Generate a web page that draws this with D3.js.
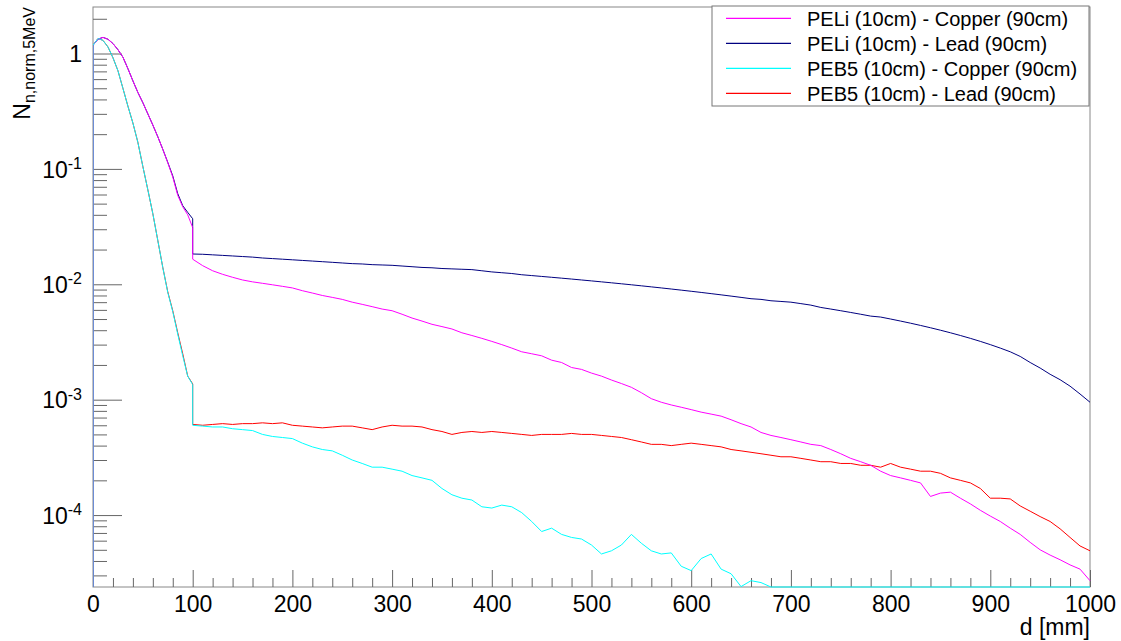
<!DOCTYPE html>
<html>
<head>
<meta charset="utf-8">
<script src="https://cdn.jsdelivr.net/npm/d3@7"></script>
<style>
  body { margin: 0; background: #fff; }
  text { font-family: "Liberation Sans", Arial, sans-serif; fill: #000; }
</style>
</head>
<body>
<div id="chart"></div>
<script>
// depth bins (mm): moderator part (0-100) and shielding part (100-1000)
const depthFront = [0,5,10,15,20,25,30,35,40,45,50,55,60,65,70,75,80,85,90,95,100];
const depthBack = [100,110,120,130,140,150,160,170,180,190,200,210,220,230,240,250,260,270,280,290,
  300,310,320,330,340,350,360,370,380,390,400,410,420,430,440,450,460,470,480,490,
  500,510,520,530,540,550,560,570,580,590,600,610,620,630,640,650,660,670,680,690,
  700,710,720,730,740,750,760,770,780,790,800,810,820,830,840,850,860,870,880,890,
  900,910,920,930,940,950,960,970,980,990,1000];

// PELi (10cm) - Copper (90cm)
const peliCuFront = [1.18,1.33,1.38,1.33,1.22,1.08,0.93,0.74,0.58,0.46,0.375,0.30,0.24,0.19,0.148,0.113,0.085,0.059,0.047,0.040,0.031];
const peliCuBack = [0.0165,0.0145,0.0131,0.0122,0.0115,0.0109,0.0105,0.0102,0.0099,0.0096,
  0.0093,0.0088,0.0084,0.0080,0.0077,0.0074,0.0070,0.0067,0.0064,0.0061,
  0.0059,0.0055,0.0051,0.0048,0.0045,0.0043,0.0041,0.0038,0.0036,0.0034,
  0.0032,0.0030,0.0028,0.0026,0.0025,0.0024,0.0022,0.0021,0.0019,0.00183,
  0.0017,0.0016,0.00148,0.00138,0.00128,0.00115,0.00102,0.00095,0.00090,0.00086,
  0.00082,0.00078,0.00075,0.00072,0.00067,0.00062,0.00058,0.00052,0.00049,0.00047,
  0.00045,0.00043,0.00041,0.00040,0.00037,0.00034,0.00031,0.00029,0.00027,0.00024,
  0.00022,0.00021,0.00020,0.00019,0.000145,0.000155,0.000158,0.00014,0.000125,0.00011,
  0.000098,0.000088,0.000077,0.000068,0.000058,0.000050,0.000045,0.000041,0.000037,0.000034,
  0.000027];

// PELi (10cm) - Lead (90cm)
const peliPbFront = [1.18,1.33,1.38,1.33,1.22,1.08,0.93,0.74,0.58,0.46,0.375,0.30,0.24,0.19,0.148,0.114,0.087,0.061,0.048,0.042,0.037];
const peliPbBack = [0.0183,0.0182,0.0180,0.0178,0.0176,0.0174,0.0172,0.0169,0.0167,0.0165,
  0.0163,0.0161,0.0159,0.0157,0.0155,0.0153,0.0151,0.0150,0.0148,0.0147,
  0.0146,0.0144,0.0142,0.0140,0.0139,0.0137,0.0136,0.0135,0.0134,0.0131,
  0.0128,0.0126,0.0124,0.0121,0.0119,0.0117,0.0115,0.0113,0.0111,0.0109,
  0.0107,0.0105,0.0103,0.0101,0.0099,0.0097,0.0095,0.0093,0.0091,0.0089,
  0.0087,0.0085,0.0083,0.0081,0.0079,0.0077,0.0075,0.0074,0.0072,0.0071,
  0.0070,0.0068,0.0066,0.0063,0.0061,0.0059,0.0057,0.0055,0.0053,0.0052,
  0.0050,0.0048,0.0046,0.0044,0.0042,0.0040,0.0038,0.0036,0.0034,0.0032,
  0.0030,0.0028,0.0026,0.00237,0.0021,0.00188,0.00166,0.00149,0.00131,0.00112,
  0.00095];

// PEB5 (10cm) - Copper (90cm)
const peb5CuFront = [1.18,1.35,1.30,1.14,0.92,0.71,0.50,0.35,0.25,0.17,0.105,0.066,0.041,0.024,0.014,0.0085,0.0058,0.0037,0.0024,0.0016,0.00135];
const peb5CuBack = [0.00060,0.00059,0.00058,0.00058,0.00056,0.00055,0.00054,0.00050,0.00048,0.00047,
  0.00046,0.00042,0.00039,0.00037,0.00036,0.00033,0.00030,0.00028,0.00026,0.00026,
  0.00025,0.00024,0.00022,0.00021,0.00020,0.00017,0.00015,0.00014,0.000135,0.000118,
  0.000115,0.000122,0.000118,0.000105,0.000088,0.000072,0.000077,0.000068,0.000064,0.000062,
  0.000055,0.000046,0.000049,0.000055,0.000068,0.000057,0.000049,0.000046,0.000047,0.000036,
  0.000033,0.000042,0.000046,0.000034,0.000031,0.000024,0.000027,0.000026,0,0,
  0,0,0,0,0,0,0,0,0,0,
  0,0,0,0,0,0,0,0,0,0,
  0,0,0,0,0,0,0,0,0,0,
  0];

// PEB5 (10cm) - Lead (90cm)
const peb5PbFront = [1.18,1.35,1.30,1.14,0.92,0.71,0.50,0.35,0.25,0.17,0.105,0.066,0.041,0.024,0.014,0.0086,0.0059,0.0038,0.0025,0.0016,0.00137];
const peb5PbBack = [0.00061,0.00060,0.00061,0.00062,0.00061,0.00062,0.00062,0.00063,0.00062,0.00063,
  0.00060,0.00059,0.00058,0.00057,0.00058,0.00059,0.00059,0.00057,0.00055,0.00058,
  0.00060,0.00059,0.00059,0.00058,0.00055,0.00053,0.00050,0.00052,0.00053,0.00052,
  0.00053,0.00052,0.00051,0.00050,0.00049,0.00050,0.00050,0.00050,0.00051,0.00050,
  0.00050,0.00049,0.00048,0.00047,0.00045,0.00043,0.00041,0.00041,0.00040,0.00041,
  0.00042,0.00041,0.00040,0.00039,0.00037,0.00036,0.00035,0.00034,0.00033,0.00032,
  0.00032,0.00031,0.00030,0.00029,0.00029,0.00028,0.00028,0.00027,0.00027,0.00026,
  0.00028,0.00026,0.00025,0.00024,0.00024,0.00023,0.00021,0.00020,0.00019,0.00017,
  0.00014,0.000140,0.000138,0.00012,0.000108,0.000097,0.000088,0.000076,0.000064,0.000054,
  0.000049];

const seriesNames = ["PELi (10cm) - Copper (90cm)", "PELi (10cm) - Lead (90cm)",
  "PEB5 (10cm) - Copper (90cm)", "PEB5 (10cm) - Lead (90cm)"];
const seriesColors = ["#ff00ff", "#000080", "#00ffff", "#ff0000"];

const xTicks = [0,100,200,300,400,500,600,700,800,900,1000];
const yDecades = [1e-4, 1e-3, 1e-2, 1e-1, 1];

// Set up the chart
const width = 1121;
const height = 641;
const margin = { top: 7, right: 31, bottom: 54, left: 93 };
const plotW = width - margin.left - margin.right;
const plotH = height - margin.top - margin.bottom;

const svg = d3.select("#chart")
  .append("svg")
  .attr("width", width)
  .attr("height", height);

const x = d3.scaleLinear().domain([0, 1000]).range([0, plotW]);
const y = d3.scaleLog().domain([2.38e-5, 2.53]).range([plotH, 0]).clamp(true);

const g = svg.append("g").attr("transform", `translate(${margin.left},${margin.top})`);

g.append("clipPath").attr("id", "plotclip")
  .append("rect").attr("x", 0).attr("y", -1).attr("width", plotW + 1).attr("height", plotH + 2);

// frame
g.append("rect")
  .attr("width", plotW).attr("height", plotH)
  .attr("fill", "none").attr("stroke", "#888").attr("stroke-width", 1);

// x axis: major ticks + minor ticks every 20 mm, pointing inward
const xMinor = d3.range(0, 1001, 20).filter(v => v % 100 !== 0);
g.append("g")
  .attr("transform", `translate(0,${plotH})`)
  .call(d3.axisBottom(x).tickValues(xMinor).tickSize(-9).tickFormat(""))
  .call(a => a.select(".domain").remove())
  .call(a => a.selectAll("line").attr("stroke", "#666"));

g.append("g")
  .attr("transform", `translate(0,${plotH})`)
  .call(d3.axisBottom(x).tickValues(xTicks).tickSize(-17).tickPadding(9).tickFormat(d3.format("d")))
  .call(a => a.select(".domain").remove())
  .call(a => a.selectAll("line").attr("stroke", "#666"))
  .call(a => a.selectAll("text").attr("font-size", 23).attr("font-family", "Liberation Sans, Arial, sans-serif"));

// y axis: decades + 2..9 minor ticks
const yMinor = [];
[1e-5, 1e-4, 1e-3, 1e-2, 1e-1, 1].forEach(dec => {
  [2,3,4,5,6,7,8,9].forEach(m => {
    const v = m * dec;
    if (v >= y.domain()[0] && v <= y.domain()[1]) yMinor.push(v);
  });
});
g.append("g")
  .call(d3.axisLeft(y).tickValues(yMinor).tickSize(-14).tickFormat(""))
  .call(a => a.select(".domain").remove())
  .call(a => a.selectAll("line").attr("stroke", "#666"));

const yMajor = g.append("g")
  .call(d3.axisLeft(y).tickValues(yDecades).tickSize(-29).tickPadding(11).tickFormat(""))
  .call(a => a.select(".domain").remove())
  .call(a => a.selectAll("line").attr("stroke", "#666"));

yMajor.selectAll(".tick").each(function(d) {
  const t = d3.select(this).select("text")
    .attr("font-size", 23)
    .attr("font-family", "Liberation Sans, Arial, sans-serif")
    .attr("dy", "0.36em");
  if (d === 1) {
    t.text("1");
  } else {
    t.append("tspan").text("10");
    t.append("tspan").attr("font-size", 16).attr("dy", "-0.55em").text(Math.round(Math.log10(d)));
  }
});

// histogram outlines
const line = d3.line()
  .x(p => x(p[0]))
  .y(p => y(p[1] > 0 ? p[1] : y.domain()[0]));

function outline(front, back) {
  const pts = [[0, 0]];
  depthFront.forEach((d, i) => pts.push([d, front[i]]));
  depthBack.forEach((d, i) => pts.push([d, back[i]]));
  return pts;
}

const allSeries = [
  { name: seriesNames[1], color: seriesColors[1], pts: outline(peliPbFront, peliPbBack) },
  { name: seriesNames[3], color: seriesColors[3], pts: outline(peb5PbFront, peb5PbBack) },
  { name: seriesNames[0], color: seriesColors[0], pts: outline(peliCuFront, peliCuBack) },
  { name: seriesNames[2], color: seriesColors[2], pts: outline(peb5CuFront, peb5CuBack) }
];

g.append("g").attr("clip-path", "url(#plotclip)")
  .selectAll("path")
  .data(allSeries)
  .enter()
  .append("path")
  .attr("d", s => line(s.pts))
  .attr("fill", "none")
  .attr("stroke", s => s.color)
  .attr("stroke-width", 1);

// axis titles
svg.append("text")
  .attr("x", margin.left + plotW)
  .attr("y", 635)
  .attr("text-anchor", "end")
  .attr("font-size", 23)
  .text("d [mm]");

const yTitle = svg.append("text")
  .attr("transform", `translate(30,${margin.top}) rotate(-90)`)
  .attr("text-anchor", "end")
  .attr("font-size", 23);
yTitle.append("tspan").text("N");
yTitle.append("tspan").attr("font-size", 16).attr("dy", "0.3em").text("n,norm,5MeV");

// legend
const legend = svg.append("g").attr("transform", "translate(712,6)");
legend.append("rect")
  .attr("width", 377).attr("height", 100)
  .attr("fill", "#fff").attr("stroke", "#777").attr("stroke-width", 1);

const entries = legend.selectAll(".entry")
  .data(seriesNames)
  .enter()
  .append("g")
  .attr("class", "entry")
  .attr("transform", (d, i) => `translate(0,${12.3 + i * 25})`);

entries.append("line")
  .attr("x1", 14).attr("x2", 79)
  .attr("stroke", (d, i) => seriesColors[i])
  .attr("stroke-width", 1.2);

entries.append("text")
  .attr("x", 95)
  .attr("dy", "0.36em")
  .attr("font-size", 20)
  .text(d => d);
</script>
</body>
</html>
